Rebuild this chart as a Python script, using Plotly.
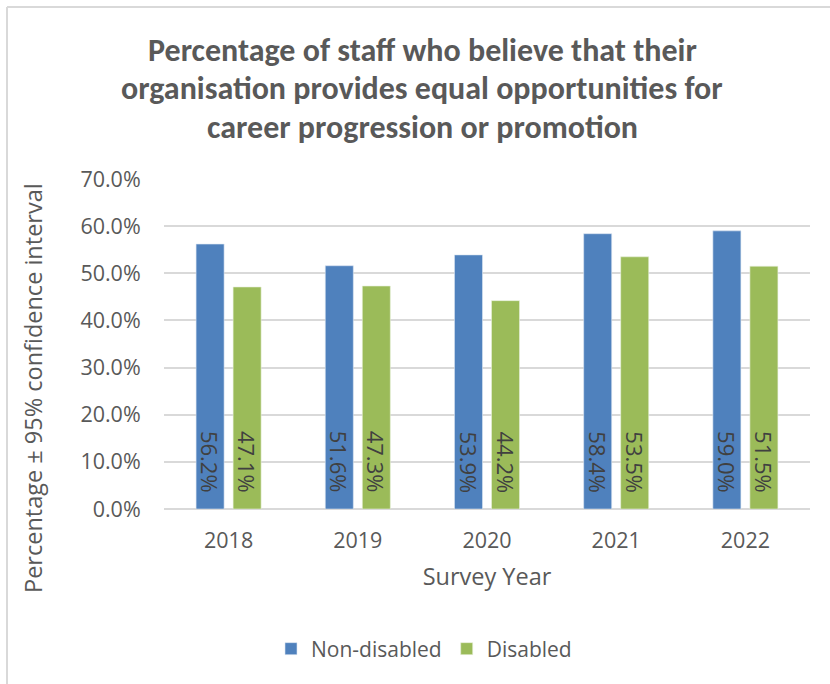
import plotly.graph_objects as go

# Survey results by year
years = ["2018", "2019", "2020", "2021", "2022"]
non_disabled = [56.2, 51.6, 53.9, 58.4, 59.0]
disabled = [47.1, 47.3, 44.2, 53.5, 51.5]
y_ticks = [0, 10, 20, 30, 40, 50, 60, 70]

title_lines = [
    "Percentage of staff who believe that their",
    "organisation provides equal opportunities for",
    "career progression or promotion",
]
y_title = "Percentage ± 95% confidence interval"

BLUE = "#4f81bd"
GREEN = "#9bbb59"
TEXT = "#595959"
GRID = "#d9d9d9"
AX_FONT = "Open Sans, Noto Sans, sans-serif"
TITLE_FONT = "Carlito, Lato, sans-serif"

W, H = 830, 684
L, R, T, B = 164, 20, 179, 175
plot_w = W - L - R
plot_h = H - T - B


def px_x(px):
    """Pixel column -> paper x (paper spans the plot area)."""
    return (px - L) / plot_w


def px_y(py):
    """Pixel row -> paper y."""
    return (H - B - py) / plot_h


fig = go.Figure()
fig.add_trace(go.Bar(x=years, y=non_disabled, name="Non-disabled",
                     marker=dict(color=BLUE, line=dict(color="#dce6f2", width=0.6))))
fig.add_trace(go.Bar(x=years, y=disabled, name="Disabled",
                     marker=dict(color=GREEN, line=dict(color="#eaf1dd", width=0.6))))

annotations = []
# rotated value labels sitting near the base of each bar
# (category axis: annotation x is the category's serial index)
for series, shift in ((non_disabled, -18.5), (disabled, 18.5)):
    for idx, v in enumerate(series):
        annotations.append(dict(
            x=idx, y=0, xref="x", yref="y", text=f"{v:.1f}%", showarrow=False,
            textangle=90, xshift=shift, yshift=14, xanchor="center", yanchor="bottom",
            font=dict(family=AX_FONT, size=22, color="#404040")))

# three-line bold heading
for i, line in enumerate(title_lines):
    annotations.append(dict(
        x=px_x(422), y=px_y(50 + 38.5 * i), xref="paper", yref="paper",
        text=f"<b>{line}</b>", showarrow=False, xanchor="center", yanchor="middle",
        font=dict(family=TITLE_FONT, size=32, color=TEXT)))

# vertical value-axis title, centred over the plot and category labels
annotations.append(dict(
    x=px_x(33), y=px_y(388), xref="paper", yref="paper", text=y_title,
    showarrow=False, textangle=-90, xanchor="center", yanchor="middle",
    font=dict(family=AX_FONT, size=23.5, color=TEXT)))
fig.update_layout(annotations=annotations)

# light frame around the chart
fig.add_shape(type="line", xref="paper", yref="paper",
              x0=px_x(7), x1=px_x(W + 20), y0=px_y(7), y1=px_y(7),
              line=dict(color=GRID, width=2))
fig.add_shape(type="line", xref="paper", yref="paper",
              x0=px_x(7), x1=px_x(7), y0=px_y(7), y1=px_y(H + 20),
              line=dict(color=GRID, width=2))

fig.update_layout(
    width=W, height=H,
    margin=dict(l=L, r=R, t=T, b=B),
    paper_bgcolor="white", plot_bgcolor="white",
    barmode="group", bargap=0.427, bargroupgap=0.243,
    xaxis=dict(
        type="category", range=[-0.5, len(years) - 0.5],
        tickfont=dict(family=AX_FONT, size=21.5, color=TEXT),
        ticks="outside", ticklen=12, tickcolor="rgba(0,0,0,0)",
        showline=False, showgrid=False,
        title=dict(text="Survey Year", font=dict(family=AX_FONT, size=23.5, color=TEXT), standoff=15)),
    yaxis=dict(
        range=[0, 70], tickvals=y_ticks, ticktext=[f"{t:.1f}%" for t in y_ticks],
        tickfont=dict(family=AX_FONT, size=21.5, color=TEXT),
        ticks="outside", ticklen=18, tickcolor="rgba(0,0,0,0)",
        gridcolor=GRID, gridwidth=1.5,
        zeroline=True, zerolinecolor=GRID, zerolinewidth=1.5, showline=False),
    legend=dict(
        orientation="h", xref="container", yref="container",
        x=424 / W, y=(H - 649) / H, xanchor="center", yanchor="middle",
        font=dict(family=AX_FONT, size=21, color=TEXT)),
    showlegend=True,
)

fig.write_html("out.html")
